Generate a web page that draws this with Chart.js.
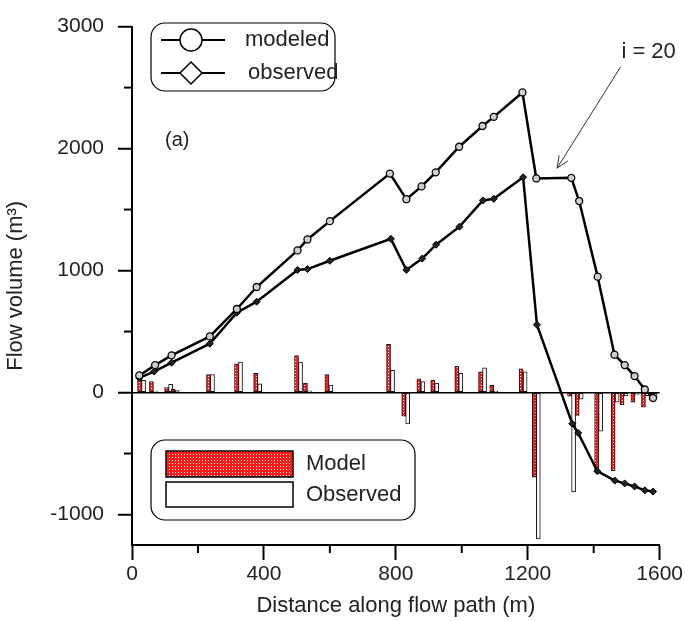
<!DOCTYPE html>
<html>
<head>
<meta charset="utf-8">
<script src="https://cdn.jsdelivr.net/npm/chart.js@4.4.1/dist/chart.umd.min.js"></script>
<style>
    body { margin: 0; background: #fff; }
    canvas { display: block; }
</style>
</head>
<body>
<canvas id="flowChart" width="685" height="621"></canvas>
<script>
// Flow volume lines (distance in m, volume in m3)
const modeledX = [22, 70, 120, 236, 318, 378, 502, 532, 600, 782, 832, 878, 921, 992, 1063, 1097, 1184, 1226, 1332, 1356, 1412, 1463, 1494, 1524, 1555, 1580];
const modeledY = [140, 225, 305, 460, 685, 865, 1165, 1255, 1405, 1795, 1585, 1690, 1805, 2015, 2185, 2260, 2460, 1755, 1760, 1570, 950, 310, 225, 135, 25, -45];

const observedX = [22, 67, 120, 236, 318, 378, 502, 532, 600, 785, 832, 880, 922, 993, 1064, 1097, 1186, 1228, 1335, 1353, 1411, 1464, 1494, 1524, 1555, 1580];
const observedY = [120, 172, 245, 400, 655, 745, 1005, 1012, 1080, 1260, 1005, 1098, 1212, 1360, 1575, 1588, 1765, 555, -255, -332, -645, -722, -745, -770, -802, -812];

// Bars: change per segment
const barX = [29, 65, 111, 131, 238, 323, 381, 505, 532, 597, 784, 830, 876, 918, 991, 1063, 1097, 1186, 1226, 1333, 1356, 1415, 1465, 1492, 1525, 1557, 1580];
const modelBars = [125, 90, 40, 27, 148, 236, 158, 303, 77, 148, 395, -194, 113, 102, 215, 169, 59, 194, -694, -30, -188, -632, -640, -100, -80, -120, -60];
const observedBars = [100, 12, 67, 15, 148, 250, 72, 250, 13, 61, 182, -258, 89, 77, 158, 202, 10, 169, -1200, -815, -54, -317, -80, -27, -15, -25, -40];

// Tick values
const xMajor = [0, 400, 800, 1200, 1600];
const xMinor = [200, 600, 1000, 1400];
const yMajor = [-1000, 0, 1000, 2000, 3000];
const yMinor = [-500, 500, 1500, 2500];

const FONT = "'Liberation Sans', Arial, sans-serif";

function toPoints(xs, ys) {
    return xs.map((v, i) => ({ x: v, y: ys[i] }));
}

// red with white dots, like the original hatch
function redDots(ctx) {
    const c = document.createElement('canvas');
    c.width = 3;
    c.height = 3;
    const g = c.getContext('2d');
    g.fillStyle = '#ff1a1a';
    g.fillRect(0, 0, 3, 3);
    g.fillStyle = '#ffffff';
    g.fillRect(1, 1, 1, 1);
    return ctx.createPattern(c, 'repeat');
}

function roundBox(ctx, x, y, w, h, r) {
    ctx.beginPath();
    ctx.moveTo(x + r, y);
    ctx.arcTo(x + w, y, x + w, y + h, r);
    ctx.arcTo(x + w, y + h, x, y + h, r);
    ctx.arcTo(x, y + h, x, y, r);
    ctx.arcTo(x, y, x + w, y, r);
    ctx.closePath();
    ctx.stroke();
}

const canvas = document.getElementById('flowChart');
const ctx = canvas.getContext('2d');
const redFill = redDots(ctx);

// minor ticks, annotation and the two boxed legends
const extras = {
    id: 'extras',
    afterDraw(chart) {
        const g = chart.ctx;
        const { x, y } = chart.scales;
        const area = chart.chartArea;
        g.save();

        g.strokeStyle = '#000';
        g.lineWidth = 2;
        yMinor.forEach(v => {
            const py = y.getPixelForValue(v);
            g.beginPath();
            g.moveTo(area.left - 8, py);
            g.lineTo(area.left, py);
            g.stroke();
        });
        xMinor.forEach(v => {
            const px = x.getPixelForValue(v);
            g.beginPath();
            g.moveTo(px, area.bottom);
            g.lineTo(px, area.bottom + 8);
            g.stroke();
        });

        // (a) label
        g.fillStyle = '#222';
        g.font = '20px ' + FONT;
        g.textBaseline = 'middle';
        g.textAlign = 'left';
        g.fillText('(a)', x.getPixelForValue(100), y.getPixelForValue(2066));

        // i = 20 arrow
        g.font = '22px ' + FONT;
        g.fillText('i = 20', x.getPixelForValue(1484), y.getPixelForValue(2790));
        const ax = x.getPixelForValue(1481), ay = y.getPixelForValue(2667);
        const bx = x.getPixelForValue(1289), by = y.getPixelForValue(1839);
        g.strokeStyle = '#333';
        g.lineWidth = 1;
        g.beginPath();
        g.moveTo(ax, ay);
        g.lineTo(bx, by);
        const ang = Math.atan2(by - ay, bx - ax);
        g.moveTo(bx, by);
        g.lineTo(bx - 13 * Math.cos(ang - 0.4), by - 13 * Math.sin(ang - 0.4));
        g.moveTo(bx, by);
        g.lineTo(bx - 13 * Math.cos(ang + 0.4), by - 13 * Math.sin(ang + 0.4));
        g.stroke();

        // line legend
        g.strokeStyle = '#000';
        g.lineWidth = 1.2;
        roundBox(g, 151, 23, 184, 68, 14);
        g.lineWidth = 2;
        [40, 73].forEach(ly => {
            g.beginPath();
            g.moveTo(161, ly);
            g.lineTo(225, ly);
            g.stroke();
        });
        g.fillStyle = '#fff';
        g.lineWidth = 1.5;
        g.beginPath();
        g.arc(191, 40, 11, 0, Math.PI * 2);
        g.fill();
        g.stroke();
        g.beginPath();
        g.moveTo(191, 62);
        g.lineTo(202, 73);
        g.lineTo(191, 84);
        g.lineTo(180, 73);
        g.closePath();
        g.fill();
        g.stroke();
        g.fillStyle = '#222';
        g.fillText('modeled', 245, 40);
        g.fillText('observed', 248, 73);

        // bar legend
        g.lineWidth = 1.2;
        roundBox(g, 151, 440, 264, 80, 14);
        g.lineWidth = 1.5;
        g.fillStyle = redFill;
        g.fillRect(166, 451, 127, 26);
        g.strokeRect(166, 451, 127, 26);
        g.fillStyle = '#fff';
        g.fillRect(166, 482, 127, 25);
        g.strokeRect(166, 482, 127, 25);
        g.fillStyle = '#222';
        g.fillText('Model', 306, 464);
        g.fillText('Observed', 306, 495);

        g.restore();
    }
};

new Chart(ctx, {
    type: 'bar',
    data: {
        datasets: [
            {
                type: 'line',
                label: 'modeled',
                data: toPoints(modeledX, modeledY),
                borderColor: '#000',
                borderWidth: 2.5,
                pointStyle: 'circle',
                pointRadius: 3.5,
                pointBackgroundColor: '#cfcfcf',
                pointBorderColor: '#000',
                pointBorderWidth: 1.3,
                tension: 0,
                order: 1
            },
            {
                type: 'line',
                label: 'observed',
                data: toPoints(observedX, observedY),
                borderColor: '#000',
                borderWidth: 2.5,
                pointStyle: 'rectRot',
                pointRadius: 3.5,
                pointBackgroundColor: '#222',
                pointBorderColor: '#000',
                pointBorderWidth: 1,
                tension: 0,
                order: 1
            },
            {
                label: 'Model',
                data: toPoints(barX, modelBars),
                backgroundColor: redFill,
                borderColor: '#111',
                borderWidth: 1,
                borderSkipped: false,
                barThickness: 4,
                order: 2
            },
            {
                label: 'Observed',
                data: toPoints(barX, observedBars),
                backgroundColor: '#fff',
                borderColor: '#111',
                borderWidth: 1,
                borderSkipped: false,
                barThickness: 4,
                order: 2
            }
        ]
    },
    options: {
        responsive: false,
        animation: false,
        layout: { padding: { left: 0, right: 25, top: 17, bottom: 0 } },
        plugins: {
            legend: { display: false },
            tooltip: { enabled: false }
        },
        scales: {
            x: {
                type: 'linear',
                min: 0,
                max: 1600,
                offset: false,
                afterBuildTicks: s => { s.ticks = xMajor.map(v => ({ value: v })); },
                afterFit: s => { s.height = 76; },
                grid: {
                    offset: false,
                    drawOnChartArea: false,
                    tickLength: 15,
                    tickColor: '#000',
                    tickWidth: 2
                },
                border: { display: true, color: '#000', width: 2 },
                ticks: {
                    color: '#222',
                    font: { family: FONT, size: 21 },
                    padding: 2,
                    maxRotation: 0,
                    callback: v => String(v)
                },
                title: {
                    display: true,
                    text: 'Distance along flow path (m)',
                    color: '#222',
                    font: { family: FONT, size: 22 },
                    padding: { top: 0, bottom: 2 }
                }
            },
            y: {
                min: -1250,
                max: 3000,
                afterBuildTicks: s => { s.ticks = yMajor.map(v => ({ value: v })); },
                afterFit: s => { s.width = 132; },
                grid: {
                    drawOnChartArea: true,
                    color: c => (c.tick && c.tick.value === 0 ? '#000' : 'rgba(0,0,0,0)'),
                    lineWidth: 1.5,
                    tickLength: 14,
                    tickColor: '#000',
                    tickWidth: 2
                },
                border: { display: true, color: '#000', width: 2 },
                ticks: {
                    color: '#222',
                    font: { family: FONT, size: 21 },
                    padding: 14,
                    callback: v => String(v)
                },
                title: {
                    display: true,
                    text: 'Flow volume (m³)',
                    color: '#222',
                    font: { family: FONT, size: 22 },
                    padding: { top: 3, bottom: 0 }
                }
            }
        }
    },
    plugins: [extras]
});
</script>
</body>
</html>
